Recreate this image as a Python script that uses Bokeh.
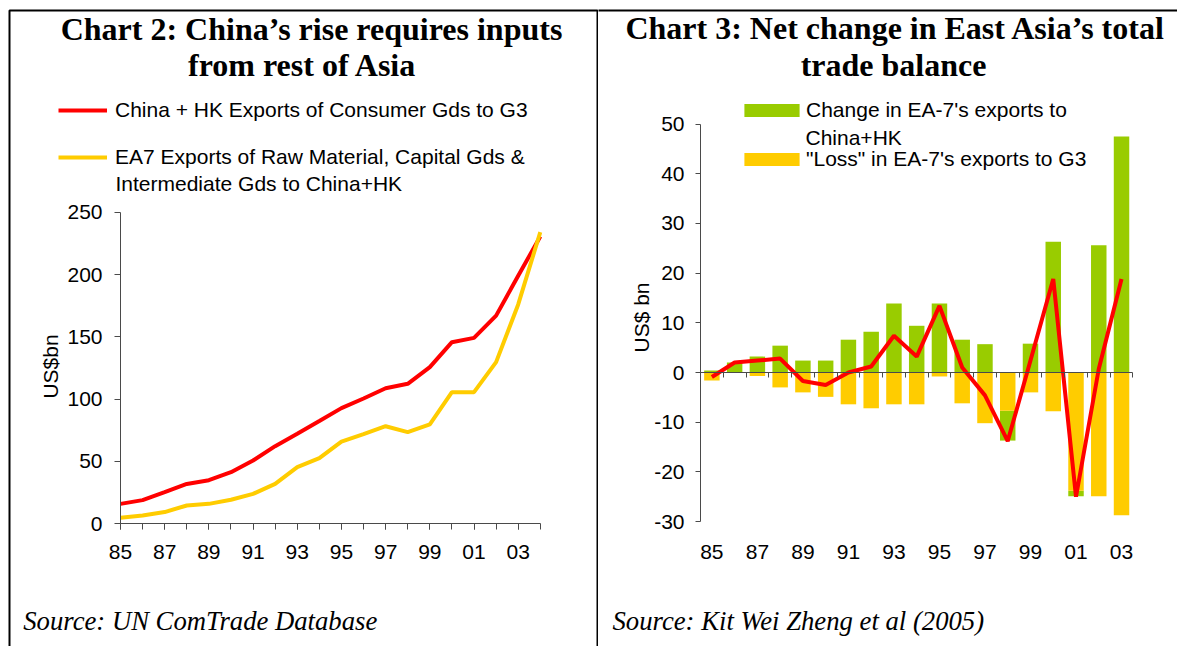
import math
from bokeh.plotting import figure
from bokeh.models import (Range1d, FixedTicker, LinearAxis, CustomJSTickFormatter,
                          Label, Legend, LegendItem, BoxAnnotation)
from bokeh.layouts import row
from bokeh.embed import file_html
from bokeh.resources import INLINE

# ---------------- data ----------------
# Chart 2 (US$bn)
years_c2 = list(range(1985, 2005))
china_hk_consumer_to_g3 = [16, 19, 25.4, 32, 35, 41.4, 50.8, 62.3, 72.2, 82.4,
                           92.8, 100.5, 108.8, 112.3, 125.7, 145.7, 149.2, 167, 199, 230.5]
ea7_inputs_to_china_hk = [4.8, 6.7, 9.4, 14.7, 16, 19.3, 24, 32, 45.5, 52.7,
                          66, 72, 78.3, 73.5, 79.7, 105.6, 105.6, 129.7, 176, 234]
c2_label_years = [1985, 1987, 1989, 1991, 1993, 1995, 1997, 1999, 2001, 2003]
c2_yticks = [0, 50, 100, 150, 200, 250]

# Chart 3 (US$ bn)
years_c3 = list(range(1985, 2004))
change_exports_china_hk = [0.4, 2.0, 3.2, 5.4, 2.4, 2.4, 6.6, 8.2, 13.9, 9.4,
                           13.9, 6.6, 5.7, -6.0, 5.8, 26.3, -1.1, 25.6, 47.5]
loss_exports_g3 = [-1.6, 0.0, -0.7, -3.0, -4.0, -4.9, -6.4, -7.2, -6.4, -6.4,
                   -0.8, -6.2, -10.2, -7.7, -4.0, -7.8, -23.8, -24.9, -28.7]
net_change = [-0.9, 2.0, 2.4, 2.8, -1.7, -2.5, 0.0, 1.2, 7.4, 3.2,
              13.4, 1.0, -4.6, -13.8, 2.4, 18.8, -25.0, 0.7, 18.8]
c3_label_years = [1985, 1987, 1989, 1991, 1993, 1995, 1997, 1999, 2001, 2003]
c3_yticks = [-30, -20, -10, 0, 10, 20, 30, 40, 50]

# ---------------- style ----------------
SANS = "Liberation Sans"
SERIF = "Liberation Serif"
RED = "#FF0000"
YEL = "#FFCC00"
GRN = "#99CC00"
AX = "#4a4a4a"
FS = "21px"
H = 646

# ---- page geometry (pixels) used to set ranges so the frame fills each canvas ----
C1_W = 598
X1_A, X1_B = 120.0, 539.8
Y1_0, Y1_T = 523.3, 211.7
sx1 = (X1_B - X1_A) / (2004 - 1985)
ky1 = (Y1_0 - Y1_T) / 250.0
xd1 = lambda X: 1985 + (X - X1_A) / sx1
yd1 = lambda Y: (Y1_0 - Y) / ky1

C2_L, C2_W = 598, 579
X2_A, X2_B = 700.0, 1132.4
Y2_0, ky2 = 372.0, 4.97
sx2 = (X2_B - X2_A) / 19.0
xd2 = lambda X: 1984.5 + (X - X2_A) / sx2
yd2 = lambda Y: (Y2_0 - Y) / ky2

yy = CustomJSTickFormatter(code="return String(tick).slice(-2)")
plain = CustomJSTickFormatter(code="return String(tick)")


def base_fig(w, xr, yr):
    p = figure(width=w, height=H, x_range=Range1d(*xr), y_range=Range1d(*yr),
               x_axis_location=None, y_axis_location=None, min_border=0,
               toolbar_location=None, output_backend="svg")
    p.xgrid.visible = False
    p.ygrid.visible = False
    p.outline_line_color = None
    p.background_fill_color = "white"
    p.border_fill_color = "white"
    return p


def axis(**kw):
    opts = dict(major_label_text_font=SANS, major_label_text_font_size=FS,
                major_label_text_color="black", axis_line_color=AX,
                major_tick_line_color=AX, minor_tick_line_color=None,
                major_tick_in=0)
    opts.update(kw)
    return LinearAxis(**opts)


def lab(p, text, x, y, size, font=SANS, style="normal", align="left",
        baseline="middle", angle=0.0):
    p.add_layout(Label(x=x, y=y, text=text, angle=angle,
                       text_font=font, text_font_size=size, text_font_style=style,
                       text_align=align, text_baseline=baseline, text_color="black"))


def frame_box(p, xd, yd, left, right, top):
    p.add_layout(BoxAnnotation(left=xd(left), right=xd(right), top=yd(top), bottom=yd(H + 50),
                               fill_alpha=0, line_color="black", line_alpha=1.0, line_width=2))


TSH = 12.8   # baseline correction for 32px titles
SSH = 7.5    # baseline correction for source lines

# ---------------- Chart 2 ----------------
p1 = base_fig(C1_W, (xd1(0), xd1(C1_W)), (yd1(H), yd1(0)))
frame_box(p1, xd1, yd1, 9, 597, 10)
r_red = p1.line(years_c2, china_hk_consumer_to_g3, line_color=RED, line_width=4)
r_yel = p1.line(years_c2, ea7_inputs_to_china_hk, line_color=YEL, line_width=4)

xa1 = axis(fixed_location=0, bounds=(years_c2[0], years_c2[-1]),
           ticker=FixedTicker(ticks=c2_label_years, minor_ticks=years_c2),
           formatter=yy, major_tick_out=6, minor_tick_out=6, minor_tick_in=0,
           major_label_standoff=15, minor_tick_line_color=AX)
p1.add_layout(xa1, "below")
ya1 = axis(fixed_location=years_c2[0], bounds=(c2_yticks[0], c2_yticks[-1]),
           ticker=FixedTicker(ticks=c2_yticks), formatter=plain,
           major_tick_out=6, major_label_standoff=12)
p1.add_layout(ya1, "left")

lab(p1, "US$bn", xd1(50), yd1(366), FS, align="center", angle=math.pi / 2)
lab(p1, "Chart 2: China\u2019s rise requires inputs", xd1(311), yd1(41 - TSH), "32px",
    font=SERIF, style="bold", align="center", baseline="alphabetic")
lab(p1, "from rest of Asia", xd1(302), yd1(77.5 - TSH), "32px",
    font=SERIF, style="bold", align="center", baseline="alphabetic")

for item_r, text, cy in [(r_red, "China + HK Exports of Consumer Gds to G3", 110),
                         (r_yel, "EA7 Exports of Raw Material, Capital Gds &", 157)]:
    lg = Legend(items=[LegendItem(label=text, renderers=[item_r])],
                location=(58, int(H - (cy + 12))), padding=0, margin=0, spacing=0,
                glyph_width=49, glyph_height=24, label_height=24, label_standoff=8,
                label_text_font=SANS, label_text_font_size=FS, label_text_color="black",
                border_line_color=None, background_fill_alpha=0)
    p1.add_layout(lg, "center")
lab(p1, "Intermediate Gds to China+HK", xd1(115), yd1(183), FS)
lab(p1, "Source: UN ComTrade Database", xd1(22.7), yd1(628 - SSH), "26.7px",
    font=SERIF, style="italic", baseline="alphabetic")

# ---------------- Chart 3 ----------------
p2 = base_fig(C2_W, (xd2(C2_L), xd2(C2_L + C2_W)), (yd2(H), yd2(0)))
frame_box(p2, xd2, yd2, 400, 1400, 10)

green_bottom = [0 if g >= 0 else l for g, l in zip(change_exports_china_hk, loss_exports_g3)]
green_top = [b + g for b, g in zip(green_bottom, change_exports_china_hk)]
r_g = p2.vbar(x=years_c3, bottom=green_bottom, top=green_top, width=0.68,
              fill_color=GRN, line_color=None)
r_y = p2.vbar(x=years_c3, bottom=0, top=loss_exports_g3, width=0.68,
              fill_color=YEL, line_color=None)
p2.line(years_c3, net_change, line_color=RED, line_width=4)

x_lo, x_hi = years_c3[0] - 0.5, years_c3[-1] + 0.5
xa2 = axis(fixed_location=c3_yticks[0], bounds=(x_lo, x_hi),
           ticker=FixedTicker(ticks=c3_label_years), formatter=yy,
           major_tick_out=0, major_label_standoff=23,
           axis_line_color=None, major_tick_line_color=None)
p2.add_layout(xa2, "below")
cat_edges = [y - 0.5 for y in years_c3] + [x_hi]
za2 = axis(fixed_location=0, bounds=(x_lo, x_hi), ticker=FixedTicker(ticks=cat_edges),
           formatter=CustomJSTickFormatter(code="return ''"), major_tick_out=5,
           major_label_standoff=0, major_label_text_font_size="1px")
p2.add_layout(za2, "below")
ya2 = axis(fixed_location=x_lo, bounds=(c3_yticks[0], c3_yticks[-1]),
           ticker=FixedTicker(ticks=c3_yticks), formatter=plain,
           major_tick_out=5, major_label_standoff=11)
p2.add_layout(ya2, "left")

lab(p2, "US$ bn", xd2(641), yd2(317), FS, align="center", angle=math.pi / 2)
lab(p2, "Chart 3: Net change in East Asia\u2019s total", xd2(895), yd2(40.5 - TSH), "32px",
    font=SERIF, style="bold", align="center", baseline="alphabetic")
lab(p2, "trade balance", xd2(893), yd2(77 - TSH), "32px",
    font=SERIF, style="bold", align="center", baseline="alphabetic")

for item_r, text, cy in [(r_g, "Change in EA-7's exports to", 109.5),
                         (r_y, "\"Loss\" in EA-7's exports to G3", 158.5)]:
    lg = Legend(items=[LegendItem(label=text, renderers=[item_r])],
                location=(737 - C2_L, int(round(H - (cy + 12.5)))), padding=0, margin=0,
                spacing=0, glyph_width=69, glyph_height=16, label_height=16, label_standoff=0,
                label_text_font=SANS, label_text_font_size=FS, label_text_color="black",
                border_line_color=None, background_fill_alpha=0)
    p2.add_layout(lg, "center")
lab(p2, "China+HK", xd2(805), yd2(137), FS)
lab(p2, "Source: Kit Wei Zheng et al (2005)", xd2(612), yd2(628 - SSH), "26.7px",
    font=SERIF, style="italic", baseline="alphabetic")

layout = row(p1, p2)
open("out.html", "w").write(file_html(layout, INLINE))
